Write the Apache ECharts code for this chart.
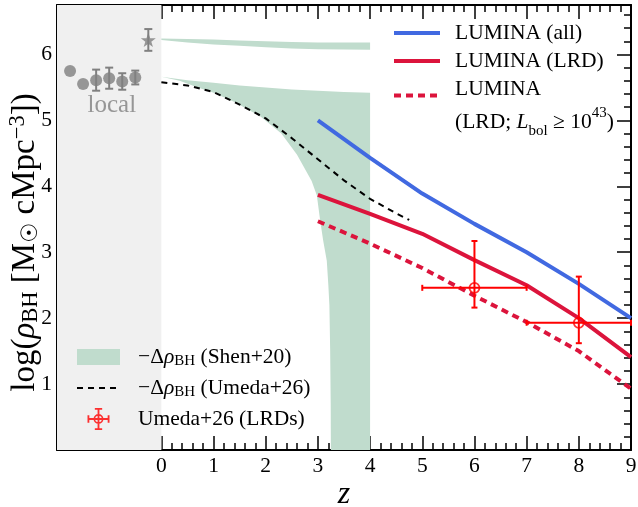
<!DOCTYPE html>
<html>
<head>
<meta charset="utf-8">
<script src="https://cdn.jsdelivr.net/npm/echarts@6/dist/echarts.min.js"></script>
<style>
  html, body { margin: 0; padding: 0; background: #fff; }
  #chart { width: 638px; height: 507px; }
</style>
</head>
<body>
<div id="chart"></div>
<script>
// local measurements (the z<0 strip is only a display slot)
const localZ = [-1.75, -1.5, -1.25, -1.0, -0.75, -0.5];
const localY = [5.75, 5.55, 5.61, 5.64, 5.59, 5.65];
const localErr = [0, 0, 0.16, 0.16, 0.125, 0.105];
const starZ = [-0.25];
const starY = [6.22];
const starErr = [0.165];

// -Δρ_BH (Shen+20): two shaded bands
const shenZ = [0, 0.5, 1, 1.5, 2, 2.5, 3, 3.5, 4];
const shenHiTop = [6.24, 6.235, 6.225, 6.21, 6.2, 6.19, 6.18, 6.18, 6.18];
const shenHiBot = [6.22, 6.18, 6.15, 6.13, 6.11, 6.09, 6.08, 6.075, 6.07];
const shenLoTop = [5.66, 5.61, 5.57, 5.53, 5.5, 5.47, 5.45, 5.43, 5.42];
const shenLoBotZ = [0, 0.35, 0.7, 1.0, 1.4, 1.9, 2.3, 2.6, 2.88, 2.98, 3.04, 3.1, 3.17, 3.2, 3.22, 3.235, 3.245, 3.25, 4];
const shenLoBotY = [5.66, 5.6, 5.5, 5.42, 5.28, 5.06, 4.8, 4.48, 4.08, 3.86, 3.5, 3.18, 2.87, 2.5, 2.2, 1.5, 0.7, -0.3, -0.3];

// -Δρ_BH (Umeda+26)
const umedaZ = [0, 0.5, 1, 1.5, 2, 2.5, 3, 3.5, 4, 4.5, 4.75];
const umedaY = [5.58, 5.53, 5.43, 5.24, 5.03, 4.73, 4.41, 4.09, 3.81, 3.59, 3.49];

// LUMINA
const lumZ = [3, 4, 5, 6, 7, 8, 9];
const lumAll = [5.0, 4.43, 3.89, 3.43, 3.0, 2.52, 2.0];
const lumLrd = [3.87, 3.58, 3.28, 2.88, 2.5, 2.0, 1.41];
const lumBright = [3.47, 3.13, 2.76, 2.34, 1.94, 1.5, 0.93];

// Umeda+26 (LRDs)
const lrdZ = [6, 8];
const lrdY = [2.46, 1.93];
const lrdZlo = [5, 7];
const lrdZhi = [7, 9];
const lrdYlo = [2.16, 1.62];
const lrdYhi = [3.17, 2.63];

const SERIF = "'Liberation Serif', 'DejaVu Serif', 'DejaVu Sans', serif";
const GREEN = '#c0dccd';
const GRAY = '#808080';
const BLUE = '#4169e1';
const CRIMSON = '#dc143c';
const RED = '#ff0000';
const CLEAR = 'rgba(0,0,0,0)';

const zip = (a, b) => a.map((v, i) => [v, b[i]]);

function errorBars(rows, color, width, cap) {
  return {
    type: 'custom', xAxisIndex: 0, yAxisIndex: 0, z: 5, silent: true,
    data: rows,
    encode: { x: 0, y: 1 },
    renderItem: function (params, api) {
      const z = api.value(0), y = api.value(1);
      const zlo = api.value(2), zhi = api.value(3), ylo = api.value(4), yhi = api.value(5);
      const st = { stroke: color, lineWidth: width };
      const kids = [];
      const seg = (x1, y1, x2, y2) => kids.push({ type: 'line', shape: { x1, y1, x2, y2 }, style: st });
      if (yhi > ylo) {
        const a = api.coord([z, ylo]), b = api.coord([z, yhi]);
        seg(a[0], a[1], b[0], b[1]);
        seg(a[0] - cap / 2, a[1], a[0] + cap / 2, a[1]);
        seg(b[0] - cap / 2, b[1], b[0] + cap / 2, b[1]);
      }
      if (zhi > zlo) {
        const a = api.coord([zlo, y]), b = api.coord([zhi, y]);
        seg(a[0], a[1], b[0], b[1]);
        seg(a[0], a[1] - cap / 2, a[0], a[1] + cap / 2);
        seg(b[0], b[1] - cap / 2, b[0], b[1] + cap / 2);
      }
      return { type: 'group', children: kids };
    }
  };
}

function bandPoints(topZ, topY, botZ, botY) {
  return zip(topZ, topY).concat(zip(botZ, botY).reverse());
}
const shenHi = bandPoints(shenZ, shenHiTop, shenZ, shenHiBot);
const shenLo = bandPoints(shenZ, shenLoTop, shenLoBotZ, shenLoBotY);

const STAR = 'path://M0,-10L2.35,-3.24L9.51,-3.09L3.8,1.24L5.88,8.09L0,4L-5.88,8.09L-3.8,1.24L-9.51,-3.09L-2.35,-3.24Z';
const RECT_ICON = 'path://M0,0H43V16H0Z';
const LRD_ICON = 'path://M0,11H24V13H0Z M0,8H2V16H0Z M22,8H24V16H22Z M11,0H13V24H11Z M8,0H16V2H8Z M8,22H16V24H8Z ' +
  'M17.4,12A5.4,5.4 0 1,1 6.6,12A5.4,5.4 0 1,1 17.4,12Z M15.6,12A3.6,3.6 0 1,0 8.4,12A3.6,3.6 0 1,0 15.6,12Z';

function richSet(lh, fs, sfs, slh) {
  return {
    n: { fontFamily: SERIF, fontSize: fs, lineHeight: lh, color: '#000' },
    i: { fontFamily: SERIF, fontSize: fs, fontStyle: 'italic', lineHeight: lh, color: '#000' },
    s: { fontFamily: SERIF, fontSize: sfs, lineHeight: slh, verticalAlign: 'bottom', color: '#000' },
    p: { fontFamily: SERIF, fontSize: sfs, lineHeight: slh, verticalAlign: 'top', color: '#000' }
  };
}

const legendText = {
  'LUMINA (all)': '{n|LUMINA (all)}',
  'LUMINA (LRD)': '{n|LUMINA (LRD)}',
  'LUMINA (LRD; Lbol)': '{n|LUMINA}\n{n|(LRD; }{i|L}{s|bol}{n| ≥ 10}{p|43}{n|)}',
  'Shen+20': '{n|−Δ}{i|ρ}{s|BH}{n| (Shen+20)}',
  'Umeda+26': '{n|−Δ}{i|ρ}{s|BH}{n| (Umeda+26)}',
  'Umeda+26 (LRDs)': '{n|Umeda+26 (LRDs)}'
};
const fmt = name => legendText[name] || name;
// line legend entries: hide the default symbol that is drawn on the swatch
const lineItem = name => ({ name, itemStyle: { color: CLEAR, borderWidth: 0 } });

const tickStyle = { color: '#000', width: 1.5 };
const axisLineStyle = { color: '#000', width: 2 };
const plainX = pos => ({
  gridIndex: 0, type: 'value', min: -2, max: 9, position: pos,
  axisLine: { onZero: false, lineStyle: axisLineStyle },
  axisTick: { show: false }, axisLabel: { show: false }, splitLine: { show: false }
});
const tickX = (pos, labels) => ({
  gridIndex: 1, type: 'value', min: 0, max: 9, interval: 1, position: pos,
  axisLine: { show: false, onZero: false },
  axisTick: { inside: true, length: 14, lineStyle: tickStyle },
  minorTick: { show: true, splitNumber: 5, length: 7, lineStyle: tickStyle },
  axisLabel: { show: labels, margin: 5, fontFamily: SERIF, fontSize: 21.5, color: '#000' },
  splitLine: { show: false }, minorSplitLine: { show: false }
});
const tickY = (pos, labels) => ({
  gridIndex: 0, type: 'value', min: 0, max: 6.75, interval: 1, position: pos,
  axisLine: { onZero: false, lineStyle: axisLineStyle },
  axisTick: { inside: true, length: 14, lineStyle: tickStyle },
  minorTick: { show: true, splitNumber: 5, length: 7, lineStyle: tickStyle },
  axisLabel: {
    show: labels, margin: 5, fontFamily: SERIF, fontSize: 21.5, color: '#000',
    formatter: v => (v >= 1 && v <= 6 && Number.isInteger(v)) ? String(v) : ''
  },
  splitLine: { show: false }, minorSplitLine: { show: false }
});

const xMain = plainX('bottom');
xMain.name = 'z';
xMain.nameLocation = 'middle';
xMain.nameGap = 29;
xMain.nameMoveOverlap = false;
xMain.nameTextStyle = { fontFamily: SERIF, fontSize: 32, fontStyle: 'italic', color: '#000' };

const yMain = tickY('left', true);
yMain.name = '{n|log(}{i|ρ}{s|BH}{n| [M}{s|☉}{n| cMpc}{p|−3}{n|])}';
yMain.nameLocation = 'middle';
yMain.nameRotate = 90;
yMain.nameGap = 14;
yMain.nameMoveOverlap = false;
yMain.nameTextStyle = { padding: [0, 30, 0, 0], rich: richSet(36, 33, 22.5, 20) };

const option = {
  animation: false,
  backgroundColor: '#fff',
  grid: [
    { left: 57, right: 7, top: 5, bottom: 57, outerBoundsMode: 'none' },
    { left: 57 + 574 * 2 / 11, right: 7, top: 5, bottom: 57, outerBoundsMode: 'none' }
  ],
  xAxis: [xMain, plainX('top'), tickX('bottom', true), tickX('top', false)],
  yAxis: [yMain, tickY('right', false), { gridIndex: 1, type: 'value', min: 0, max: 6.75, show: false }],
  legend: [
    {
      orient: 'vertical', left: 392, top: 22, padding: 0, itemGap: 6,
      itemWidth: 46, itemHeight: 14, selectedMode: false,
      data: [lineItem('LUMINA (all)'), lineItem('LUMINA (LRD)')],
      lineStyle: { width: 'inherit' },
      formatter: fmt,
      textStyle: { padding: [0, 0, 0, 10], rich: richSet(24, 21.5, 15, 14) }
    },
    {
      orient: 'vertical', left: 392, top: 78, padding: 0,
      itemWidth: 46, itemHeight: 14, selectedMode: false,
      data: [lineItem('LUMINA (LRD; Lbol)')],
      lineStyle: { width: 'inherit' },
      formatter: fmt,
      textStyle: { padding: [20, 0, 0, 10], rich: richSet(33, 21.5, 15, 23) }
    },
    {
      orient: 'vertical', left: 76, top: 346, padding: 0, itemGap: 8,
      itemWidth: 43, itemHeight: 22, selectedMode: false,
      data: [
        { name: 'Shen+20', icon: RECT_ICON, itemStyle: { color: GREEN } },
        lineItem('Umeda+26'),
        { name: 'Umeda+26 (LRDs)', icon: LRD_ICON, itemStyle: { color: RED, borderWidth: 0 } }
      ],
      lineStyle: { width: 'inherit' },
      formatter: fmt,
      textStyle: { padding: [0, 0, 0, 13], rich: richSet(24, 21.5, 15, 14) }
    }
  ],
  series: [
    {
      // grey "local" strip
      type: 'custom', xAxisIndex: 0, yAxisIndex: 0, z: 1, silent: true, data: [0],
      renderItem: (params, api) => {
        const a = api.coord([-2, 6.75]), b = api.coord([0, 0]);
        return { type: 'rect', shape: { x: a[0], y: a[1], width: b[0] - a[0], height: b[1] - a[1] }, style: { fill: '#f0f0f0' } };
      }
    },
    {
      name: 'Shen+20', type: 'custom', xAxisIndex: 0, yAxisIndex: 0, z: 2, clip: true, silent: true,
      itemStyle: { color: GREEN }, data: [0],
      renderItem: (params, api) => ({
        type: 'group',
        children: [shenHi, shenLo].map(pts => ({
          type: 'polygon', shape: { points: pts.map(p => api.coord(p)) }, style: { fill: GREEN }
        }))
      })
    },
    {
      name: 'Umeda+26', type: 'line', xAxisIndex: 0, yAxisIndex: 0, z: 3, symbol: 'none',
      data: zip(umedaZ, umedaY),
      lineStyle: { color: '#000', width: 2, type: [6, 5] }, itemStyle: { color: '#000' }
    },
    {
      name: 'LUMINA (all)', type: 'line', xAxisIndex: 0, yAxisIndex: 0, z: 4, symbol: 'none',
      data: zip(lumZ, lumAll), lineStyle: { color: BLUE, width: 4 }, itemStyle: { color: BLUE }
    },
    {
      name: 'LUMINA (LRD)', type: 'line', xAxisIndex: 0, yAxisIndex: 0, z: 4, symbol: 'none',
      data: zip(lumZ, lumLrd), lineStyle: { color: CRIMSON, width: 4 }, itemStyle: { color: CRIMSON }
    },
    {
      name: 'LUMINA (LRD; Lbol)', type: 'line', xAxisIndex: 0, yAxisIndex: 0, z: 4, symbol: 'none',
      data: zip(lumZ, lumBright), lineStyle: { color: CRIMSON, width: 4, type: [7, 5] }, itemStyle: { color: CRIMSON }
    },
    errorBars(localZ.map((z, i) => [z, localY[i], z, z, localY[i] - localErr[i], localY[i] + localErr[i]]), GRAY, 2, 8),
    errorBars(starZ.map((z, i) => [z, starY[i], z, z, starY[i] - starErr[i], starY[i] + starErr[i]]), GRAY, 2, 8),
    {
      type: 'scatter', xAxisIndex: 0, yAxisIndex: 0, z: 6, symbol: 'circle', symbolSize: 12,
      data: zip(localZ, localY), itemStyle: { color: GRAY }
    },
    {
      type: 'scatter', xAxisIndex: 0, yAxisIndex: 0, z: 6, symbol: STAR, symbolSize: 15, symbolKeepAspect: true,
      data: zip(starZ, starY), itemStyle: { color: GRAY }
    },
    {
      type: 'scatter', xAxisIndex: 0, yAxisIndex: 0, z: 6, symbolSize: 0, silent: true,
      data: [[-0.95, 5.22]],
      label: { show: true, position: 'inside', formatter: 'local', fontFamily: SERIF, fontSize: 25, color: GRAY }
    },
    errorBars(lrdZ.map((z, i) => [z, lrdY[i], lrdZlo[i], lrdZhi[i], lrdYlo[i], lrdYhi[i]]), RED, 2, 6),
    {
      name: 'Umeda+26 (LRDs)', type: 'scatter', xAxisIndex: 0, yAxisIndex: 0, z: 7, symbol: 'circle', symbolSize: 10,
      data: zip(lrdZ, lrdY),
      itemStyle: { color: CLEAR, borderColor: RED, borderWidth: 1.8 }
    }
  ]
};

const chart = echarts.init(document.getElementById('chart'));
chart.setOption(option);
</script>
</body>
</html>
